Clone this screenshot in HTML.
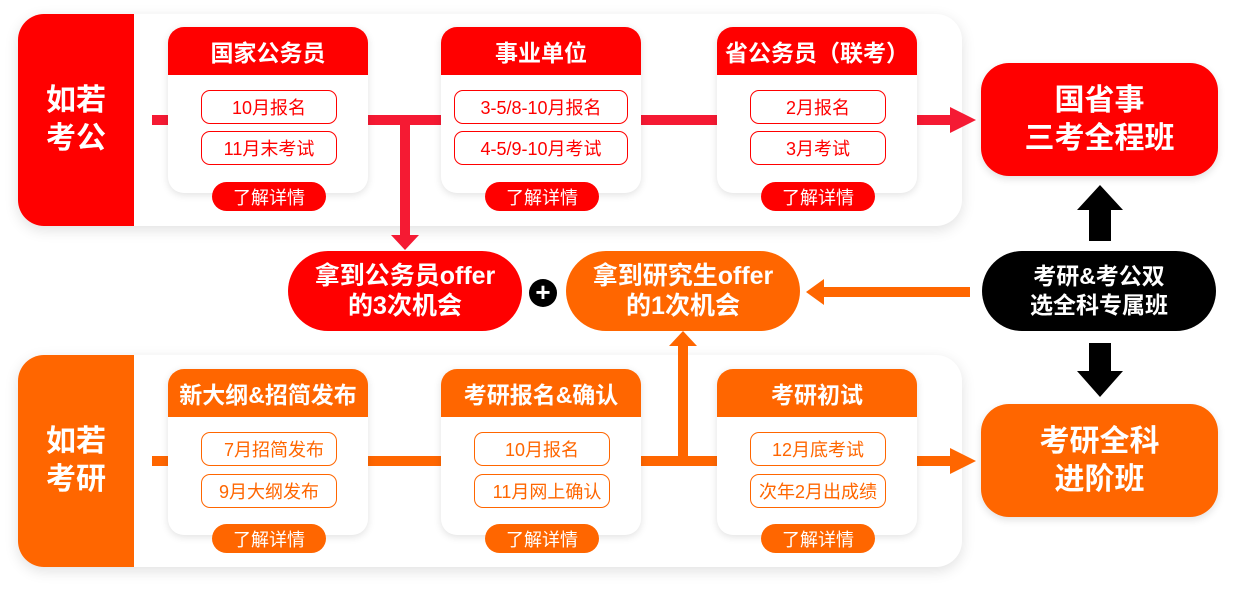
<!DOCTYPE html>
<html><head><meta charset="utf-8"><style>
*{margin:0;padding:0;box-sizing:border-box}
body{width:1236px;height:589px;background:#fff;position:relative;overflow:hidden;font-family:"Liberation Sans","Noto Sans CJK SC",sans-serif}
.a{position:absolute}
.panel{position:absolute;left:18px;width:944px;height:212px;background:#fff;border-radius:26px;box-shadow:0 4px 14px rgba(0,0,0,.12);overflow:hidden}
.side{position:absolute;left:0;top:0;width:116px;height:100%;color:#fff;font-weight:bold;font-size:30px;line-height:38px;display:flex;align-items:center;justify-content:center;text-align:center}
.card{position:absolute;width:200px;height:166px;background:#fff;border-radius:16px;box-shadow:0 2px 8px rgba(0,0,0,.12);overflow:hidden}
.hd{height:48px;color:#fff;font-weight:bold;font-size:23px;display:flex;align-items:center;justify-content:center;white-space:nowrap}
.pill{position:absolute;width:136px;height:34px;border:1px solid;border-radius:9px;font-size:18px;display:flex;align-items:center;justify-content:center;background:#fff;white-space:nowrap}
.btn{position:absolute;width:114px;height:29px;border-radius:15px;color:#fff;font-size:18px;display:flex;align-items:center;justify-content:center}
.line{position:absolute;height:10px}
.big{position:absolute;color:#fff;font-weight:bold;display:flex;align-items:center;justify-content:center;text-align:center;white-space:nowrap}
</style></head><body>

<div class="panel" style="top:14px"><div class="side" style="background:#ff0000">如若<br>考公</div></div>
<div class="panel" style="top:355px"><div class="side" style="background:#ff6600">如若<br>考研</div></div>

<div class="line" style="background:#f51a33;left:152px;top:115px;width:800px"></div>
<svg class="a" style="left:950px;top:107px" width="26" height="26"><polygon points="0,0 26,13 0,26" fill="#f51a33"/></svg>
<div class="a" style="background:#f51a33;left:400px;top:115px;width:10px;height:122px"></div>
<svg class="a" style="left:391px;top:235px" width="28" height="16"><polygon points="0,0 28,0 14,15" fill="#f51a33"/></svg>

<div class="line" style="background:#ff6600;left:152px;top:456px;width:800px"></div>
<svg class="a" style="left:950px;top:448px" width="26" height="26"><polygon points="0,0 26,13 0,26" fill="#ff6600"/></svg>
<div class="a" style="background:#ff6600;left:678px;top:345px;width:10px;height:116px"></div>
<svg class="a" style="left:669px;top:331px" width="28" height="16"><polygon points="14,0 28,15 0,15" fill="#ff6600"/></svg>
<div class="a" style="background:#ff6600;left:822px;top:287px;width:148px;height:10px"></div>
<svg class="a" style="left:806px;top:279px" width="18" height="26"><polygon points="0,13 18,0 18,26" fill="#ff6600"/></svg>

<div class="card" style="left:168px;top:27px"><div class="hd" style="background:#ff0000">国家公务员</div></div>
<div class="pill" style="left:201px;top:90px;border-color:#f00;color:#f00">10月报名</div>
<div class="pill" style="left:201px;top:131px;border-color:#f00;color:#f00">11月末考试</div>
<div class="btn" style="left:212px;top:182px;background:#f00">了解详情</div>

<div class="card" style="left:441px;top:27px"><div class="hd" style="background:#ff0000">事业单位</div></div>
<div class="pill" style="left:454px;top:90px;width:174px;border-color:#f00;color:#f00">3-5/8-10月报名</div>
<div class="pill" style="left:454px;top:131px;width:174px;border-color:#f00;color:#f00">4-5/9-10月考试</div>
<div class="btn" style="left:485px;top:182px;background:#f00">了解详情</div>

<div class="card" style="left:717px;top:27px"><div class="hd" style="background:#ff0000">省公务员（联考）</div></div>
<div class="pill" style="left:750px;top:90px;border-color:#f00;color:#f00">2月报名</div>
<div class="pill" style="left:750px;top:131px;border-color:#f00;color:#f00">3月考试</div>
<div class="btn" style="left:761px;top:182px;background:#f00">了解详情</div>

<div class="card" style="left:168px;top:369px"><div class="hd" style="background:#ff6600">新大纲&amp;招简发布</div></div>
<div class="pill" style="left:201px;top:432px;border-color:#f60;color:#f60">&nbsp;&nbsp;7月招简发布</div>
<div class="pill" style="left:201px;top:474px;border-color:#f60;color:#f60">9月大纲发布</div>
<div class="btn" style="left:212px;top:524px;background:#f60">了解详情</div>

<div class="card" style="left:441px;top:369px"><div class="hd" style="background:#ff6600">考研报名&amp;确认</div></div>
<div class="pill" style="left:474px;top:432px;border-color:#f60;color:#f60">10月报名</div>
<div class="pill" style="left:474px;top:474px;border-color:#f60;color:#f60">&nbsp;&nbsp;11月网上确认</div>
<div class="btn" style="left:485px;top:524px;background:#f60">了解详情</div>

<div class="card" style="left:717px;top:369px"><div class="hd" style="background:#ff6600">考研初试</div></div>
<div class="pill" style="left:750px;top:432px;border-color:#f60;color:#f60">12月底考试</div>
<div class="pill" style="left:750px;top:474px;border-color:#f60;color:#f60">次年2月出成绩</div>
<div class="btn" style="left:761px;top:524px;background:#f60">了解详情</div>

<div class="big" style="left:288px;top:251px;width:234px;height:80px;border-radius:40px;background:#ff0000;font-size:25px;line-height:30px">拿到公务员offer<br>的3次机会</div>
<div class="a" style="left:529px;top:279px;width:28px;height:28px;border-radius:50%;background:#000;color:#fff;font-weight:bold;font-size:26px;line-height:27px;text-align:center">+</div>
<div class="big" style="left:566px;top:251px;width:234px;height:80px;border-radius:40px;background:#ff6600;font-size:25px;line-height:30px">拿到研究生offer<br>的1次机会</div>

<div class="big" style="left:981px;top:63px;width:237px;height:113px;border-radius:28px;background:#ff0000;font-size:30px;line-height:38px;box-shadow:0 3px 8px rgba(0,0,0,.12)">国省事<br>三考全程班</div>
<div class="big" style="left:982px;top:251px;width:234px;height:80px;border-radius:40px;background:#000;font-size:23px;line-height:29px">考研&amp;考公双<br>选全科专属班</div>
<div class="big" style="left:981px;top:404px;width:237px;height:113px;border-radius:28px;background:#ff6600;font-size:30px;line-height:38px;box-shadow:0 3px 8px rgba(0,0,0,.12)">考研全科<br>进阶班</div>
<svg class="a" style="left:1077px;top:185px" width="46" height="56"><polygon points="23,0 46,25 34,25 34,56 12,56 12,25 0,25" fill="#000"/></svg>
<svg class="a" style="left:1077px;top:343px" width="46" height="54"><polygon points="12,0 34,0 34,28 46,28 23,54 0,28 12,28" fill="#000"/></svg>
</body></html>
